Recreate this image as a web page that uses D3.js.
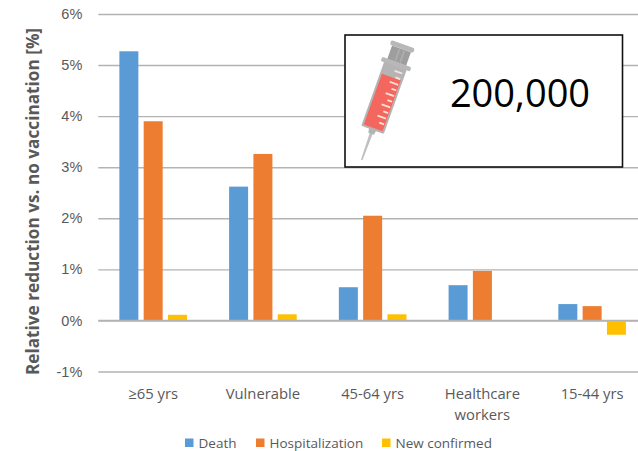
<!DOCTYPE html>
<html>
<head>
<meta charset="utf-8">
<script src="https://d3js.org/d3.v7.min.js"></script>
<style>
  html, body { margin: 0; padding: 0; background: #fff; overflow: hidden; }
  svg { display: block; font-family: "Open Sans", sans-serif; }
</style>
</head>
<body>
<svg id="chart" width="638" height="451"></svg>
<script>
// Relative reduction by population group and outcome
const categories = ["≥65 yrs", "Vulnerable", "45-64 yrs", ["Healthcare", "workers"], "15-44 yrs"];
const seriesNames = ["Death", "Hospitalization", "New confirmed"];
const seriesColors = ["#5b9bd5", "#ed7d31", "#ffc000"];
const death = [5.27, 2.62, 0.65, 0.69, 0.32];
const hospitalization = [3.9, 3.26, 2.05, 0.97, 0.28];
const newConfirmed = [0.11, 0.12, 0.12, 0, -0.28];
const yTicks = [-1, 0, 1, 2, 3, 4, 5, 6];
const doseLabel = "200,000";
const yTitle = "Relative reduction vs. no vaccination [%]";

const series = [death, hospitalization, newConfirmed];
const svg = d3.select("#chart");
const textColor = "#595959";
const gridColor = "#b3b3b3";

const y = d3.scaleLinear().domain([-1, 6]).range([371.5, 14]);
const x0 = d3.scaleBand().domain(d3.range(categories.length)).range([98.3, 647]);
const x1 = d3.scaleBand().domain(d3.range(series.length))
  .range([0, x0.bandwidth()]).paddingInner(0.218).paddingOuter(0.867);

// Value axis: labels plus full-width gridlines
const yAxis = d3.axisLeft(y).tickValues(yTicks)
  .tickFormat(d => d + "%").tickSize(-(647 - 98.3)).tickPadding(16);
const gy = svg.append("g").attr("transform", "translate(98.3,0)").call(yAxis);
gy.select(".domain").remove();
gy.selectAll("line").attr("stroke", gridColor).attr("stroke-width", 1.4);
gy.selectAll("text").attr("fill", textColor).attr("font-size", 14.5);

// Bars
svg.append("g").selectAll("g").data(series).join("g")
  .attr("fill", (d, i) => seriesColors[i])
  .each(function (values, s) {
    d3.select(this).selectAll("rect").data(values).join("rect")
      .attr("x", (d, i) => x0(i) + x1(s))
      .attr("width", x1.bandwidth())
      .attr("y", d => y(Math.max(d, 0)))
      .attr("height", d => Math.abs(y(d) - y(0)));
  });

// Zero line sits above the bars
svg.append("line")
  .attr("x1", 98.3).attr("x2", 647)
  .attr("y1", y(0)).attr("y2", y(0))
  .attr("stroke", gridColor).attr("stroke-width", 1.4);

// Category labels, some on two lines
const labels = svg.append("g").attr("fill", textColor).attr("font-size", 14.8).attr("text-anchor", "middle");
categories.forEach((c, i) => {
  const lines = Array.isArray(c) ? c : [c];
  lines.forEach((line, k) => {
    labels.append("text")
      .attr("x", x0(i) + x0.bandwidth() / 2)
      .attr("y", 399 + k * 21)
      .text(line);
  });
});

// Rotated axis title
svg.append("text")
  .attr("transform", "translate(39,201.5) rotate(-90)")
  .attr("text-anchor", "middle")
  .attr("fill", textColor)
  .attr("font-size", 17.2)
  .attr("font-weight", 700)
  .text(yTitle);

// Legend
const legendX = [185, 256, 382];
const legend = svg.append("g").attr("font-size", 13.5).attr("fill", textColor);
seriesNames.forEach((name, i) => {
  legend.append("rect")
    .attr("x", legendX[i]).attr("y", 438.5)
    .attr("width", 8.5).attr("height", 8.5)
    .attr("fill", seriesColors[i]);
  legend.append("text")
    .attr("x", legendX[i] + 13.5).attr("y", 448)
    .text(name);
});

// Inset box with the dose count
svg.append("rect")
  .attr("x", 345).attr("y", 35)
  .attr("width", 277.5).attr("height", 132)
  .attr("fill", "#fff").attr("stroke", "#111").attr("stroke-width", 1.6);
svg.append("text")
  .attr("x", 520).attr("y", 107)
  .attr("text-anchor", "middle")
  .attr("font-size", 38)
  .attr("fill", "#000")
  .text(doseLabel);

// Syringe icon, drawn upward from the needle tip along its own axis
const syringe = svg.append("g").attr("transform", "translate(361.7,160) rotate(19.7)");
const steel = "#b4b4b4";
syringe.append("path").attr("d", "M-0.8,0 L0.8,0 L1.6,-30 L-1.6,-30 Z").attr("fill", "#c0c0c0");
syringe.append("path").attr("d", "M-3,-28 L3,-28 L4,-34 L-4,-34 Z").attr("fill", steel);
syringe.append("rect").attr("x", -12).attr("y", -101).attr("width", 24).attr("height", 69).attr("rx", 1.5).attr("fill", steel);
syringe.append("rect").attr("x", -10).attr("y", -88).attr("width", 20).attr("height", 54).attr("fill", "#f4675f");
syringe.append("rect").attr("x", -15.5).attr("y", -104).attr("width", 31).attr("height", 4.5).attr("rx", 1.5).attr("fill", "#b8b8b8");
syringe.append("rect").attr("x", -10).attr("y", -118).attr("width", 20).attr("height", 14).attr("fill", "#9e9e9e");
syringe.append("rect").attr("x", -2.5).attr("y", -117).attr("width", 1.5).attr("height", 12).attr("fill", "#b0b0b0");
syringe.append("rect").attr("x", 2.5).attr("y", -117).attr("width", 1.5).attr("height", 12).attr("fill", "#b0b0b0");
syringe.append("rect").attr("x", -12.5).attr("y", -123).attr("width", 25).attr("height", 5).attr("rx", 2).attr("fill", "#b8b8b8");
const gradTicks = [[-96, 8], [-90, 5], [-84, 9], [-78, 5], [-72, 9], [-66, 5], [-60, 9], [-54, 5], [-48, 9], [-42, 5]];
syringe.selectAll(".grad").data(gradTicks).join("rect")
  .attr("class", "grad")
  .attr("x", d => 10 - d[1] - 1)
  .attr("y", d => d[0])
  .attr("width", d => d[1])
  .attr("height", 1.8)
  .attr("fill", "#fbe3d8");
</script>
</body>
</html>
